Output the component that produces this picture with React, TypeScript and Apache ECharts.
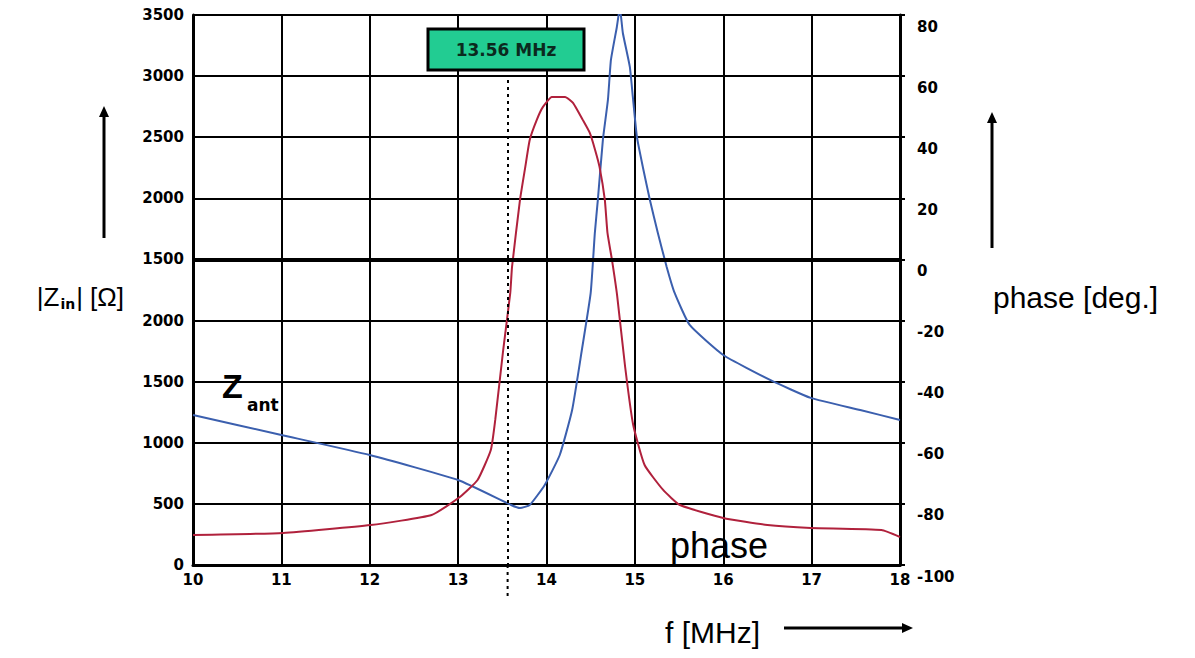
import React, { useEffect, useRef } from "react";
import * as echarts from "echarts";

// x-axis (frequency, MHz)
const xTicks = [10, 11, 12, 13, 14, 15, 16, 17, 18];
// left axis tick labels as printed on the original (one per grid line, bottom to top)
const leftTickLabels = ["0", "500", "1000", "1500", "2000", "1500", "2000", "2500", "3000", "3500"];
// right axis (phase, degrees)
const rightTickLabels = [-100, -80, -60, -40, -20, 0, 20, 40, 60, 80];

// Z_ant curve (blue), in grid units of the left axis (500 per grid line)
const freqBlue = [10, 11, 12, 13, 13.6, 13.7, 13.81, 13.98, 14.15, 14.29, 14.4, 14.5, 14.547, 14.581, 14.638, 14.695, 14.729, 14.796, 14.83, 14.864, 14.943, 14.977, 15.023, 15.09, 15.17, 15.26, 15.36, 15.45, 15.62, 16.0, 16.53, 16.99, 17.55, 18.0];
const zAnt = [1227, 1064, 900, 695, 491, 466, 491, 655, 900, 1268, 1759, 2226, 2717, 2987, 3478, 3805, 4132, 4402, 4558, 4353, 4075, 3830, 3502, 3257, 2987, 2717, 2439, 2226, 1964, 1718, 1514, 1367, 1268, 1187];

// phase curve (red)
const freqRed = [10, 11.02, 12.01, 12.7, 13.02, 13.22, 13.37, 13.42, 13.51, 13.59, 13.61, 13.7, 13.76, 13.81, 13.89, 13.96, 14.06, 14.21, 14.3, 14.41, 14.49, 14.55, 14.6, 14.66, 14.69, 14.74, 14.8, 14.89, 14.98, 15.11, 15.32, 15.51, 16.0, 16.5, 16.99, 17.79, 18.0];
const phase = [245, 262, 327, 409, 556, 695, 941, 1187, 1759, 2226, 2439, 2987, 3257, 3478, 3642, 3748, 3830, 3830, 3781, 3642, 3535, 3396, 3257, 2987, 2717, 2500, 2200, 1620, 1150, 818, 614, 491, 385, 327, 303, 286, 229];

const markerFreq = 13.56;
const markerLabel = "13.56 MHz";

const tickFont = "DejaVu Sans";
const textFont = "Liberation Sans";

export default function App() {
  const ref = useRef<HTMLDivElement>(null);

  useEffect(() => {
    if (!ref.current) return;
    const chart = echarts.init(ref.current, undefined, { renderer: "svg" });

    const arrow = (x1: number, y1: number, x2: number, y2: number, id: string) => {
      const dx = x2 - x1, dy = y2 - y1;
      const len = Math.sqrt(dx * dx + dy * dy);
      const ux = dx / len, uy = dy / len;
      const hl = 11, hw = 5;
      const bx = x2 - ux * hl, by = y2 - uy * hl;
      return [
        { type: "line", id: id + "l", shape: { x1, y1, x2: bx, y2: by }, style: { stroke: "#000", lineWidth: 3 } },
        {
          type: "polygon", id: id + "h",
          shape: { points: [[x2, y2], [bx - uy * hw, by + ux * hw], [bx + uy * hw, by - ux * hw]] },
          style: { fill: "#000" },
        },
      ];
    };

    const option: any = {
      animation: false,
      backgroundColor: "#fff",
      grid: { left: 193, right: 295, top: 15, bottom: 93 },
      xAxis: {
        type: "value",
        min: xTicks[0],
        max: xTicks[xTicks.length - 1],
        interval: 1,
        axisLine: { lineStyle: { color: "#000", width: 3 } },
        axisTick: { show: true, inside: true, length: 5, lineStyle: { color: "#000", width: 2 } },
        axisLabel: { color: "#000", fontFamily: tickFont, fontWeight: "bold", fontSize: 15, margin: 7 },
        splitLine: { show: true, lineStyle: { color: "#000", width: 2 } },
      },
      yAxis: [
        {
          type: "value",
          min: 0,
          max: 500 * (leftTickLabels.length - 1),
          interval: 500,
          axisLine: { show: true, lineStyle: { color: "#000", width: 3 } },
          axisTick: { show: false },
          axisLabel: {
            color: "#000", fontFamily: tickFont, fontWeight: "bold", fontSize: 15, margin: 9,
            formatter: (v: number) => leftTickLabels[Math.round(v / 500)] ?? "",
          },
          splitLine: { show: true, lineStyle: { color: "#000", width: 2 } },
        },
        {
          type: "value",
          position: "right",
          min: rightTickLabels[0],
          max: rightTickLabels[rightTickLabels.length - 1],
          interval: 20,
          axisLine: { show: true, lineStyle: { color: "#000", width: 3 } },
          axisTick: { show: true, length: 5, lineStyle: { color: "#000", width: 2 } },
          axisLabel: {
            color: "#000", fontFamily: tickFont, fontWeight: "bold", fontSize: 15, margin: 17,
            verticalAlign: "top", padding: [4, 0, 0, 0],
          },
          splitLine: { show: false },
        },
      ],
      series: [
        {
          type: "line",
          name: "Z_ant",
          yAxisIndex: 0,
          data: freqBlue.map((f, i) => [f, zAnt[i]]),
          showSymbol: false,
          smooth: 0.15,
          lineStyle: { color: "#3b5fae", width: 2 },
          markLine: {
            silent: true, symbol: "none", label: { show: false },
            lineStyle: { color: "#000", width: 4, type: "solid" },
            data: [{ yAxis: 2500 }],
          },
          z: 3,
        },
        {
          type: "line",
          name: "phase",
          yAxisIndex: 0,
          data: freqRed.map((f, i) => [f, phase[i]]),
          showSymbol: false,
          smooth: 0.15,
          lineStyle: { color: "#b0213c", width: 2 },
          markLine: {
            silent: true, symbol: "none", label: { show: false },
            lineStyle: { color: "#000", width: 2, type: [3, 4] },
            data: [[{ coord: [markerFreq, 3969] }, { coord: [markerFreq, 0] }]],
          },
          z: 3,
        },
      ],
      graphic: [
        {
          type: "rect", id: "box",
          shape: { x: 428, y: 29, width: 156, height: 41 },
          style: { fill: "#22cc92", stroke: "#000", lineWidth: 3 },
          z: 10,
        },
        {
          type: "text", id: "boxText",
          x: 506, y: 50,
          style: {
            text: markerLabel, fill: "#0b2a1e", font: `bold 17px "${tickFont}"`,
            align: "center", verticalAlign: "middle",
          },
          z: 11,
        },
        {
          type: "text", id: "zin",
          x: 124, y: 297,
          style: {
            text: "{a||Z}{b|in}{a|| [Ω]}",
            align: "right", verticalAlign: "middle",
            rich: {
              a: { font: `26px "${textFont}"`, fill: "#000", verticalAlign: "middle" },
              b: { font: `bold 14px "${tickFont}"`, fill: "#000", padding: [14, 1, 0, 1] },
            },
          },
        },
        {
          type: "text", id: "phaseDeg",
          x: 993, y: 297,
          style: { text: "phase [deg.]", font: `30px "${textFont}"`, fill: "#000", align: "left", verticalAlign: "middle" },
        },
        {
          type: "text", id: "fmhz",
          x: 665, y: 632,
          style: { text: "f [MHz]", font: `30px "${textFont}"`, fill: "#000", align: "left", verticalAlign: "middle" },
        },
        {
          type: "text", id: "phaseLbl",
          x: 719, y: 545,
          style: { text: "phase", font: `36px "${textFont}"`, fill: "#000", align: "center", verticalAlign: "middle" },
          z: 5,
        },
        {
          type: "text", id: "zZ",
          x: 222, y: 386,
          style: { text: "Z", font: `bold 34px "${textFont}"`, fill: "#000", align: "left", verticalAlign: "middle" },
          z: 5,
        },
        {
          type: "text", id: "zAnt",
          x: 247, y: 405,
          style: { text: "ant", font: `bold 17px "${tickFont}"`, fill: "#000", align: "left", verticalAlign: "middle" },
          z: 5,
        },
        ...arrow(104, 238, 104, 106, "a1"),
        ...arrow(992, 248, 992, 112, "a2"),
        ...arrow(784, 628, 913, 628, "a3"),
      ],
    };

    chart.setOption(option);

    // extend the dotted marker line below the x axis, positioned via the axis scale
    const px = chart.convertToPixel({ xAxisIndex: 0 }, markerFreq) as number;
    const py = chart.convertToPixel({ yAxisIndex: 0 }, 0) as number;
    chart.setOption({
      graphic: [
        {
          type: "line", id: "dotExt",
          shape: { x1: px, y1: py, x2: px, y2: py + 33 },
          style: { stroke: "#000", lineWidth: 2, lineDash: [3, 4] },
        },
      ],
    });

    return () => chart.dispose();
  }, []);

  return (
    <div
      ref={ref}
      style={{ position: "fixed", left: 0, top: 0, width: 1195, height: 658 }}
    />
  );
}
